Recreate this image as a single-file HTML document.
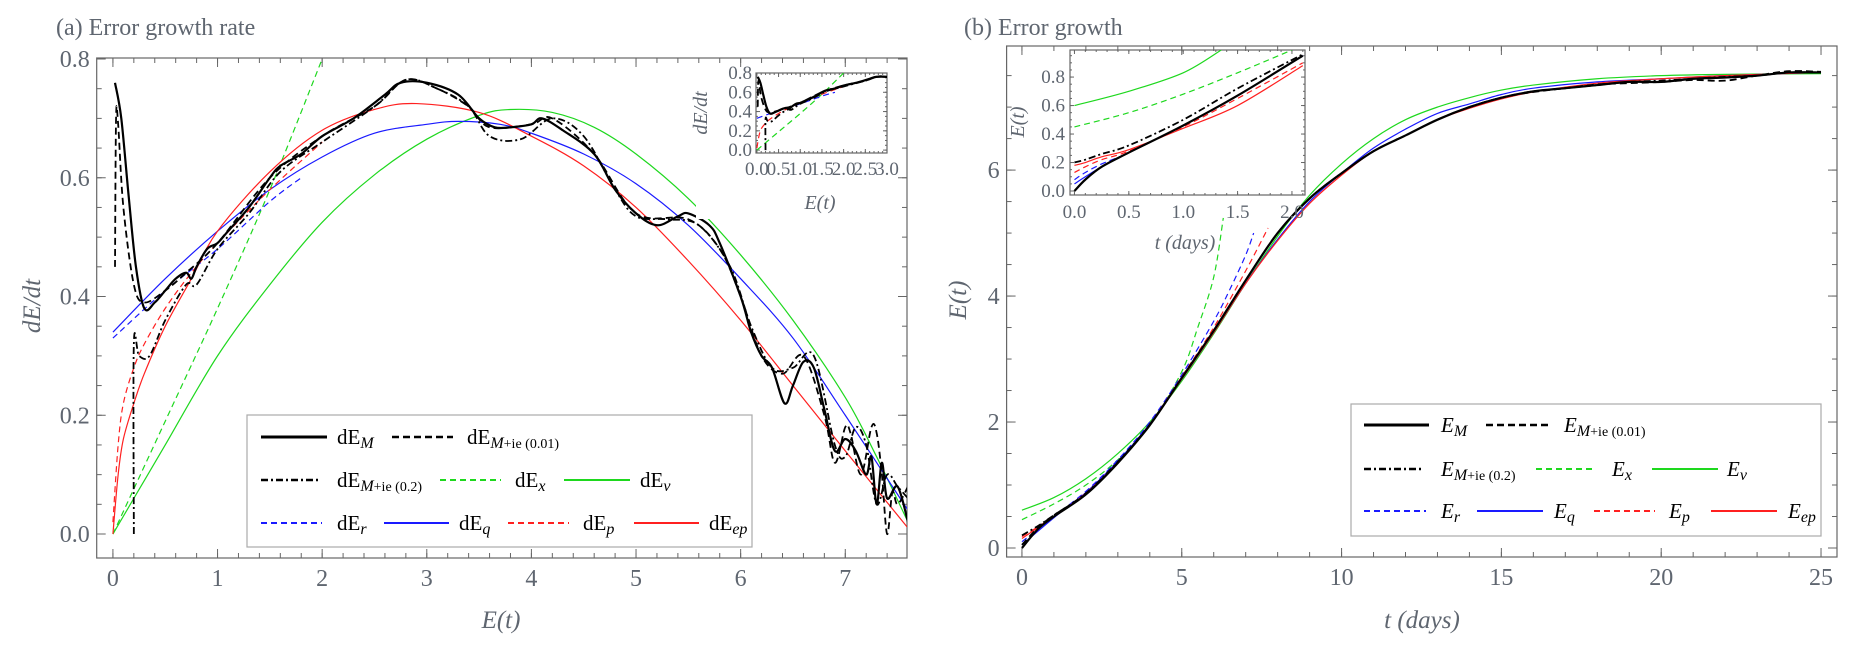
<!DOCTYPE html>
<html><head><meta charset="utf-8"><style>
body{margin:0;background:#fff;width:1856px;height:652px;overflow:hidden}
svg{display:block;font-family:"Liberation Serif","DejaVu Serif",serif}
text{font-family:"Liberation Serif","DejaVu Serif",serif}
.tick{fill:#5f6670;font-size:24px}
.itick{fill:#5f6670;font-size:19px}
.ttl{fill:#5f6670;font-size:24px}
.ax{fill:#5f6670;font-size:25px;font-style:italic}
.lg{fill:#000;font-size:21px}
</style></head><body>
<svg id="fig" width="1856" height="652" viewBox="0 0 1856 652">
<text class="ttl" x="56" y="35">(a) Error growth rate</text>
<text class="ttl" x="964" y="35">(b) Error growth</text>
<text class="ax" x="501" y="628" text-anchor="middle">E(t)</text>
<text class="ax" transform="translate(40,306) rotate(-90)" text-anchor="middle">dE/dt</text>
<text class="ax" x="1422" y="628" text-anchor="middle">t (days)</text>
<text class="ax" transform="translate(966,300) rotate(-90)" text-anchor="middle">E(t)</text>
<g id="ga"></g>
<g id="gb"></g>
<g id="gia"></g>
<g id="gib"></g>
<g id="lga"></g>
<g id="lgb"></g>
</svg>
<script>
// ---------- Panel (a) data: E vs dE/dt ----------
const aM_x=[0.02,0.08,0.15,0.22,0.3,0.4,0.5,0.6,0.7,0.75,0.8,0.9,1.0,1.1,1.3,1.5,1.6,1.8,2.0,2.3,2.6,2.75,3.0,3.3,3.5,3.65,3.8,4.0,4.1,4.3,4.6,4.8,5.0,5.2,5.4,5.5,5.7,5.8,6.0,6.1,6.2,6.3,6.42,6.5,6.6,6.7,6.8,6.9,7.0,7.1,7.2,7.25,7.3,7.35,7.4,7.5,7.6];
const aM_y=[0.76,0.7,0.57,0.45,0.38,0.39,0.41,0.43,0.44,0.43,0.45,0.48,0.49,0.51,0.55,0.6,0.62,0.64,0.67,0.7,0.74,0.76,0.76,0.74,0.7,0.685,0.685,0.69,0.7,0.68,0.64,0.58,0.54,0.52,0.535,0.54,0.52,0.49,0.4,0.34,0.3,0.28,0.22,0.25,0.29,0.28,0.21,0.14,0.16,0.14,0.1,0.13,0.05,0.12,0.06,0.08,0.02];
const aD_x=[0.02,0.03,0.05,0.1,0.2,0.3,0.5,0.7,1.0,1.5,2.0,2.5,2.8,3.1,3.4,3.6,4.0,4.2,4.6,5.0,5.5,5.8,6.0,6.2,6.4,6.6,6.8,6.9,7.0,7.05,7.15,7.25,7.3,7.35,7.4,7.45,7.5,7.6];
const aD_y=[0.45,0.7,0.69,0.55,0.42,0.39,0.41,0.44,0.49,0.6,0.67,0.72,0.765,0.75,0.72,0.685,0.69,0.7,0.64,0.54,0.53,0.48,0.4,0.3,0.27,0.3,0.2,0.12,0.18,0.17,0.1,0.18,0.17,0.1,0.0,0.07,0.05,0.08];
const aDD_x=[0.2,0.2,0.25,0.35,0.5,0.7,0.8,1.0,1.3,1.6,2.0,2.5,2.8,3.1,3.4,3.6,3.9,4.2,4.5,4.8,5.0,5.3,5.6,5.9,6.1,6.3,6.5,6.7,6.9,7.0,7.1,7.2,7.3,7.4,7.5,7.6];
const aDD_y=[0.0,0.32,0.3,0.3,0.36,0.42,0.42,0.48,0.54,0.61,0.66,0.72,0.765,0.75,0.72,0.67,0.665,0.7,0.67,0.58,0.535,0.53,0.52,0.45,0.35,0.28,0.28,0.3,0.15,0.13,0.18,0.15,0.05,0.1,0.08,0.06];
const aX_x=[0,0.5,1,1.5,2];
const aX_y=[0,0.19,0.38,0.58,0.8];
const aV_x=[0,0.25,0.5,1,1.5,2,2.5,3,3.5,3.8,4.2,4.6,5,5.5,6,6.5,7,7.3,7.6];
const aV_y=[0,0.075,0.15,0.3,0.42,0.525,0.605,0.665,0.705,0.715,0.71,0.685,0.64,0.565,0.47,0.36,0.23,0.13,0.02];
const aR_x=[0,0.5,1,1.5,1.8];
const aR_y=[0.33,0.41,0.48,0.56,0.6];
const aQ_x=[0,0.5,1,1.5,2,2.5,3,3.3,3.7,4,4.5,5,5.5,6,6.5,7,7.6];
const aQ_y=[0.34,0.43,0.51,0.58,0.635,0.675,0.69,0.695,0.69,0.675,0.64,0.59,0.52,0.43,0.33,0.2,0.04];
const aP_x=[0,0.05,0.1,0.2,0.3,0.5,0.75,1,1.5,2];
const aP_y=[0.02,0.15,0.22,0.28,0.32,0.38,0.44,0.49,0.58,0.66];
const aEP_x=[0,0.05,0.1,0.2,0.3,0.5,0.75,1,1.5,2,2.5,2.9,3.5,4,4.5,5,5.5,6,6.5,7,7.6];
const aEP_y=[0,0.1,0.16,0.22,0.27,0.35,0.43,0.51,0.61,0.68,0.715,0.725,0.71,0.67,0.62,0.55,0.46,0.36,0.25,0.14,0.01];
// ---------- Panel (b) data: t vs E ----------
const bM_t=[0,0.5,1,2,3,4,5,6,7,8,9,10,11,12,13,14,15,16,17,18,19,20,21,22,23,24,25];
const bM_y=[0,0.3,0.5,0.85,1.35,1.95,2.7,3.45,4.25,5.0,5.55,5.95,6.3,6.55,6.8,7.0,7.15,7.25,7.3,7.35,7.4,7.4,7.45,7.47,7.5,7.55,7.55];
const bD_y=[0.05,0.32,0.52,0.86,1.36,1.96,2.7,3.45,4.25,5.0,5.55,5.95,6.3,6.55,6.8,7.0,7.15,7.24,7.3,7.36,7.38,7.4,7.43,7.42,7.5,7.57,7.56];
const bDD_y=[0.2,0.35,0.52,0.87,1.37,1.96,2.7,3.45,4.25,5.0,5.55,5.95,6.3,6.55,6.8,7.0,7.15,7.25,7.3,7.35,7.4,7.42,7.45,7.48,7.5,7.55,7.55];
const bV_t=[0,1,2,3,4,5,6,7,8,9,10,11,12,13,14,15,16,18,20,22,25];
const bV_y=[0.6,0.8,1.1,1.5,2.0,2.65,3.4,4.2,4.95,5.6,6.1,6.5,6.8,7.0,7.15,7.27,7.35,7.45,7.5,7.52,7.53];
const bX_t=[0,1,2,3,4,5,5.5,6,6.3];
const bX_y=[0.45,0.7,1.0,1.4,1.95,2.8,3.5,4.3,5.24];
const bR_t=[0,1,2,3,4,5,6,6.5,7,7.25];
const bR_y=[0.1,0.5,0.9,1.4,2.0,2.75,3.6,4.1,4.65,5.0];
const bP_t=[0,1,2,3,4,5,6,7,7.7];
const bP_y=[0.18,0.5,0.88,1.37,1.97,2.72,3.5,4.4,5.08];
const bQ_t=[0,1,2,3,4,5,6,7,8,9,10,11,12,13,14,15,16,18,20,22,25];
const bQ_y=[0.05,0.48,0.88,1.38,1.97,2.68,3.42,4.2,4.9,5.5,5.95,6.35,6.65,6.9,7.05,7.2,7.3,7.4,7.45,7.5,7.55];
const bEP_y=[0.15,0.5,0.87,1.36,1.95,2.68,3.42,4.2,4.88,5.47,5.92,6.3,6.55,6.8,6.98,7.13,7.24,7.38,7.45,7.5,7.55];
// ---------- Inset (b) data ----------
const ib_t=[0,0.1,0.25,0.5,1,1.5,2.1];
const ibM_y=[0,0.08,0.17,0.27,0.46,0.67,0.95];
const ibDD_y=[0.2,0.22,0.26,0.32,0.5,0.72,0.96];
const ibR_y=[0.08,0.13,0.19,0.27,0.46,0.67,0.95];
const ibQ_y=[0.05,0.1,0.17,0.27,0.46,0.67,0.95];
const ibP_y=[0.13,0.17,0.22,0.28,0.45,0.65,0.9];
const ibEP_y=[0.18,0.2,0.24,0.29,0.44,0.6,0.88];
const ibV_t=[0,0.5,1,1.35];
const ibV_y=[0.6,0.7,0.83,0.99];
const ibX_t=[0,0.5,1,1.5,2.0];
const ibX_y=[0.45,0.55,0.68,0.83,0.99];

const NS="http://www.w3.org/2000/svg";
const GRAY="#666";
function el(tag,attrs,parent){const e=document.createElementNS(NS,tag);for(const k in attrs)e.setAttribute(k,attrs[k]);parent.appendChild(e);return e;}
function lin(d0,d1,r0,r1){return v=>r0+(v-d0)/(d1-d0)*(r1-r0);}
const STY={
 M:{stroke:"#000",w:2.2,dash:""}, D:{stroke:"#000",w:1.8,dash:"7,4"}, DD:{stroke:"#000",w:1.8,dash:"7,3,2,3"},
 X:{stroke:"#1ed81e",w:1.2,dash:"6,4"}, V:{stroke:"#1ed81e",w:1.2,dash:""},
 R:{stroke:"#1a1aff",w:1.2,dash:"6,4"}, Q:{stroke:"#1a1aff",w:1.2,dash:""},
 P:{stroke:"#ff2020",w:1.2,dash:"6,4"}, EP:{stroke:"#ff2020",w:1.2,dash:""}
};
function smoothPath(P){
 let d="M"+P[0][0].toFixed(2)+","+P[0][1].toFixed(2);
 for(let i=0;i<P.length-1;i++){
  const p0=P[Math.max(0,i-1)],p1=P[i],p2=P[i+1],p3=P[Math.min(P.length-1,i+2)];
  const c1=[p1[0]+(p2[0]-p0[0])/6,p1[1]+(p2[1]-p0[1])/6];
  const c2=[p2[0]-(p3[0]-p1[0])/6,p2[1]-(p3[1]-p1[1])/6];
  d+="C"+c1[0].toFixed(2)+","+c1[1].toFixed(2)+" "+c2[0].toFixed(2)+","+c2[1].toFixed(2)+" "+p2[0].toFixed(2)+","+p2[1].toFixed(2);
 }
 return d;
}
function series(g,xs,ys,sx,sy,key,clip,name){
 const P=xs.map((x,i)=>[sx(x),sy(ys[i])]);
 const s=STY[key];
 const p=el("path",{d:smoothPath(P),fill:"none",stroke:s.stroke,"stroke-width":s.w,"stroke-linejoin":"round","clip-path":"url(#"+clip+")"},g);
 if(s.dash)p.setAttribute("stroke-dasharray",s.dash);
 
 
}
function frame(g,o){
 const {x0,x1,y0,y1,dx,dy,xmaj,xmin,ymaj,ymin,cls,id,fmtx,fmty,ml,bg}=o;
 const sx=lin(dx[0],dx[1],x0,x1), sy=lin(dy[0],dy[1],y1,y0);
 const cp=el("clipPath",{id:id},g);el("rect",{x:x0,y:y0,width:x1-x0,height:y1-y0},cp);
 if(bg)el("rect",{x:x0-(ml||0),y:y0-4,width:x1-x0+(ml||0)+6,height:y1-y0+70,fill:"#fff"},g);
 const r=el("rect",{x:x0,y:y0,width:x1-x0,height:y1-y0,fill:"none",stroke:GRAY,"stroke-width":1.2},g);
 
 
 const ticks=(vals,len,isX)=>{vals.forEach(v=>{
   if(isX){const X=sx(v);if(X<x0-0.5||X>x1+0.5)return;
     el("line",{x1:X,y1:y1,x2:X,y2:y1-len,stroke:GRAY,"stroke-width":1},g);
     el("line",{x1:X,y1:y0,x2:X,y2:y0+len,stroke:GRAY,"stroke-width":1},g);}
   else{const Y=sy(v);if(Y<y0-0.5||Y>y1+0.5)return;
     el("line",{x1:x0,y1:Y,x2:x0+len,y2:Y,stroke:GRAY,"stroke-width":1},g);
     el("line",{x1:x1,y1:Y,x2:x1-len,y2:Y,stroke:GRAY,"stroke-width":1},g);}
 });};
 ticks(xmin,o.tmin,true);ticks(xmaj,o.tmaj,true);ticks(ymin,o.tmin,false);ticks(ymaj,o.tmaj,false);
 xmaj.forEach(v=>{const t=el("text",{x:sx(v),y:y1+o.xly,"text-anchor":"middle",class:cls},g);t.textContent=fmtx(v);
   
   });
 ymaj.forEach(v=>{const t=el("text",{x:x0-o.ylx,y:sy(v)+o.yoff,"text-anchor":"end",class:cls},g);t.textContent=fmty(v);
   
   });
 return {sx,sy};
}
function range(a,b,s){const r=[];for(let v=a;v<=b+1e-9;v+=s)r.push(+v.toFixed(4));return r;}

// Panel a
const ga=document.getElementById("ga");
const A=frame(ga,{x0:96.7,x1:907,y0:58,y1:558,dx:[-0.155,7.59],dy:[-0.0404,0.8017],
 xmaj:range(0,7,1),xmin:range(0,7.6,0.2),ymaj:range(0,0.8,0.2),ymin:range(0,0.8,0.05),
 tmaj:9,tmin:5,cls:"tick",id:"clipA",fmtx:v=>String(v),fmty:v=>v.toFixed(1),xly:28,ylx:7,yoff:8});
series(ga,aV_x,aV_y,A.sx,A.sy,"V","clipA","line-dEv");
series(ga,aX_x,aX_y,A.sx,A.sy,"X","clipA","line-dEx");
series(ga,aQ_x,aQ_y,A.sx,A.sy,"Q","clipA","line-dEq");
series(ga,aR_x,aR_y,A.sx,A.sy,"R","clipA","line-dEr");
series(ga,aEP_x,aEP_y,A.sx,A.sy,"EP","clipA","line-dEep");
series(ga,aP_x,aP_y,A.sx,A.sy,"P","clipA","line-dEp");
series(ga,aDD_x,aDD_y,A.sx,A.sy,"DD","clipA","line-dEM-ie02");
series(ga,aD_x,aD_y,A.sx,A.sy,"D","clipA","line-dEM-ie001");
series(ga,aM_x,aM_y,A.sx,A.sy,"M","clipA","line-dEM");

// Inset a
const gia=document.getElementById("gia");
const IA=frame(gia,{x0:756,x1:887,y0:73,y1:153,dx:[-0.02,3.0],dy:[-0.03,0.8],bg:true,ml:60,
 xmaj:range(0,3,0.5),xmin:range(0,3,0.1),ymaj:range(0,0.8,0.2),ymin:range(0,0.8,0.05),
 tmaj:4,tmin:2,cls:"itick",id:"clipIA",fmtx:v=>v.toFixed(1),fmty:v=>v.toFixed(1),xly:22,ylx:4,yoff:6});
const t1=el("text",{class:"ax",x:820,y:209,"text-anchor":"middle"},gia);t1.textContent="E(t)";t1.style.fontSize="20px";
const t2=el("text",{class:"ax",transform:"translate(707,113) rotate(-90)","text-anchor":"middle"},gia);t2.textContent="dE/dt";t2.style.fontSize="20px";
series(gia,aX_x,aX_y,IA.sx,IA.sy,"X","clipIA","inset-a-dEx");
series(gia,aR_x,aR_y,IA.sx,IA.sy,"R","clipIA","inset-a-dEr");
series(gia,aP_x,aP_y,IA.sx,IA.sy,"P","clipIA","inset-a-dEp");
series(gia,aDD_x,aDD_y,IA.sx,IA.sy,"DD","clipIA","inset-a-dEM-ie02");
series(gia,aD_x,aD_y,IA.sx,IA.sy,"D","clipIA","inset-a-dEM-ie001");
series(gia,aM_x,aM_y,IA.sx,IA.sy,"M","clipIA","inset-a-dEM");

// Panel b
const gb=document.getElementById("gb");
const B=frame(gb,{x0:1006.6,x1:1837,y0:46,y1:557,dx:[-0.48,25.5],dy:[-0.143,7.97],
 xmaj:range(0,25,5),xmin:range(0,25,1),ymaj:range(0,6,2),ymin:range(0,7.5,0.5),
 tmaj:9,tmin:5,cls:"tick",id:"clipB",fmtx:v=>String(v),fmty:v=>String(v),xly:28,ylx:7,yoff:8});
series(gb,bV_t,bV_y,B.sx,B.sy,"V","clipB","line-Ev");
series(gb,bX_t,bX_y,B.sx,B.sy,"X","clipB","line-Ex");
series(gb,bR_t,bR_y,B.sx,B.sy,"R","clipB","line-Er");
series(gb,bP_t,bP_y,B.sx,B.sy,"P","clipB","line-Ep");
series(gb,bQ_t,bQ_y,B.sx,B.sy,"Q","clipB","line-Eq");
series(gb,bQ_t,bEP_y,B.sx,B.sy,"EP","clipB","line-Eep");
series(gb,bM_t,bDD_y,B.sx,B.sy,"DD","clipB","line-EM-ie02");
series(gb,bM_t,bD_y,B.sx,B.sy,"D","clipB","line-EM-ie001");
series(gb,bM_t,bM_y,B.sx,B.sy,"M","clipB","line-EM");

// Inset b
const gib=document.getElementById("gib");
const IB=frame(gib,{x0:1070,x1:1305,y0:50,y1:195,dx:[-0.041,2.12],dy:[-0.028,0.99],
 xmaj:range(0,2,0.5),xmin:range(0,2.1,0.1),ymaj:range(0,0.8,0.2),ymin:range(0,0.95,0.05),
 tmaj:4,tmin:2,cls:"itick",id:"clipIB",fmtx:v=>v.toFixed(1),fmty:v=>v.toFixed(1),xly:23,ylx:5,yoff:6});
const t3=el("text",{class:"ax",x:1185,y:249,"text-anchor":"middle"},gib);t3.textContent="t (days)";t3.style.fontSize="20px";
const t4=el("text",{class:"ax",transform:"translate(1024,122) rotate(-90)","text-anchor":"middle"},gib);t4.textContent="E(t)";t4.style.fontSize="20px";
series(gib,ibV_t,ibV_y,IB.sx,IB.sy,"V","clipIB","inset-b-Ev");
series(gib,ibX_t,ibX_y,IB.sx,IB.sy,"X","clipIB","inset-b-Ex");
series(gib,ib_t,ibR_y,IB.sx,IB.sy,"R","clipIB","inset-b-Er");
series(gib,ib_t,ibQ_y,IB.sx,IB.sy,"Q","clipIB","inset-b-Eq");
series(gib,ib_t,ibP_y,IB.sx,IB.sy,"P","clipIB","inset-b-Ep");
series(gib,ib_t,ibEP_y,IB.sx,IB.sy,"EP","clipIB","inset-b-Eep");
series(gib,ib_t,ibDD_y,IB.sx,IB.sy,"DD","clipIB","inset-b-EM-ie02");
series(gib,ib_t,ibM_y,IB.sx,IB.sy,"M","clipIB","inset-b-EM");

// Legends
function legend(g,box,entries,prefix,italicBase){
 el("rect",{x:box[0],y:box[1],width:box[2]-box[0],height:box[3]-box[1],fill:"#fff",stroke:"#aaa","stroke-width":1.2},g);
 entries.forEach(e=>{
  const s=STY[e.k];
  const ln=el("line",{x1:e.x1,x2:e.x2,y1:e.y,y2:e.y,stroke:s.stroke,"stroke-width":s.w+0.8},g);
  if(s.dash)ln.setAttribute("stroke-dasharray",s.dash);
  const t=el("text",{x:e.lx,y:e.y+7,class:"lg"},g);
  const b=el("tspan",{},t);b.textContent=prefix;if(italicBase)b.setAttribute("font-style","italic");
  const sub=el("tspan",{dy:4,"font-size":"16","font-style":"italic"},t);sub.textContent=e.sub;
  if(e.rest){const r=el("tspan",{"font-size":"14"},t);r.textContent=e.rest;}
  
  
 });
}
legend(document.getElementById("lga"),[247,415,752,547],[
 {k:"M",x1:261,x2:327,y:437,lx:337,sub:"M"},
 {k:"D",x1:392,x2:453,y:437,lx:467,sub:"M",rest:"+ie (0.01)"},
 {k:"DD",x1:261,x2:320,y:480,lx:337,sub:"M",rest:"+ie (0.2)"},
 {k:"X",x1:440,x2:501,y:480,lx:515,sub:"x"},
 {k:"V",x1:564,x2:630,y:480,lx:640,sub:"v"},
 {k:"R",x1:261,x2:322,y:523,lx:337,sub:"r"},
 {k:"Q",x1:384,x2:449,y:523,lx:459,sub:"q"},
 {k:"P",x1:508,x2:569,y:523,lx:583,sub:"p"},
 {k:"EP",x1:634,x2:699,y:523,lx:709,sub:"ep"}],"dE",false);
legend(document.getElementById("lgb"),[1351,404,1821,536],[
 {k:"M",x1:1364,x2:1429,y:425,lx:1441,sub:"M"},
 {k:"D",x1:1486,x2:1548,y:425,lx:1564,sub:"M",rest:"+ie (0.01)"},
 {k:"DD",x1:1364,x2:1424,y:469,lx:1441,sub:"M",rest:"+ie (0.2)"},
 {k:"X",x1:1536,x2:1596,y:469,lx:1612,sub:"x"},
 {k:"V",x1:1652,x2:1718,y:469,lx:1727,sub:"v"},
 {k:"R",x1:1364,x2:1426,y:511,lx:1441,sub:"r"},
 {k:"Q",x1:1477,x2:1543,y:511,lx:1554,sub:"q"},
 {k:"P",x1:1594,x2:1655,y:511,lx:1669,sub:"p"},
 {k:"EP",x1:1711,x2:1777,y:511,lx:1788,sub:"ep"}],"E",true);
</script>
</body></html>
